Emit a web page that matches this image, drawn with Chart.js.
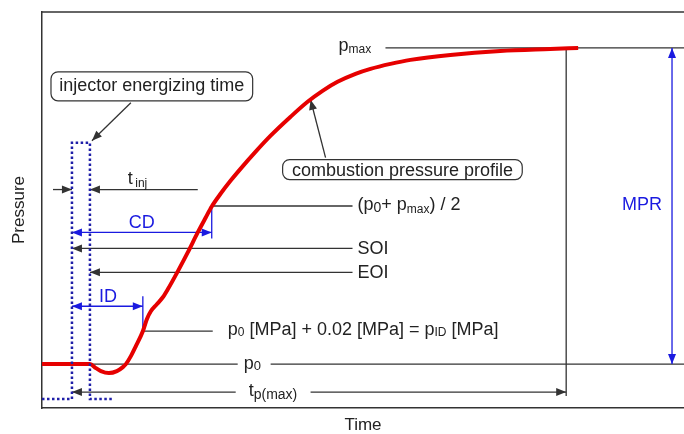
<!DOCTYPE html>
<html lang="en">
  <head>
    <meta charset="UTF-8" />
    <title>Combustion pressure profile</title>
    <script src="https://cdn.jsdelivr.net/npm/chart.js"></script>
    <style>
      body {
        margin: 0;
        background-color: #ffffff;
        font-family: "Liberation Sans", Arial, sans-serif;
      }
      .graph {
        width: 684px;
        height: 434px;
      }
    </style>
  </head>
  <body>
    <div class="graph">
      <canvas id="pressureChart"></canvas>
    </div>
    <script>
      // Combustion pressure trace (time, pressure)
      const curveTime = [0, 4.8, 5.4, 5.9, 6.7, 7.5, 8.1, 8.4, 8.9, 9.4, 10.1, 10.5, 10.9, 11.5, 12.1, 12.6,
        13.6, 14.6, 15.6, 16.4, 17.0, 17.9, 18.9, 19.9, 21.4, 22.9, 24.9, 26.6, 28.1, 29.6, 31.4, 32.9,
        34.9, 36.9, 40.9, 45.9, 50.9, 53.7];
      const curvePressure = [4.4, 4.4, 4.0, 3.7, 3.5, 3.7, 4.1, 4.4, 5.2, 6.2, 7.7, 8.9, 9.7, 10.4, 11.1, 11.9,
        13.7, 15.6, 17.6, 19.1, 20.2, 21.5, 22.8, 24.0, 25.7, 27.3, 29.2, 30.7, 31.8, 32.7, 33.5, 34.0,
        34.5, 34.9, 35.4, 35.8, 36.0, 36.1];

      // Injector energizing signal
      const pulseTime = [0, 3.0, 3.0, 4.8, 4.8, 7.1];
      const pulseLevel = [0.9, 0.9, 26.6, 26.6, 0.9, 0.9];

      // Characteristic values
      const p0 = 4.4;
      const pMax = 36.1;
      const pHalf = (p0 + pMax) / 2;
      const pID = 7.7;
      const tSOI = 3.0;
      const tEOI = 4.8;
      const tID = 10.1;
      const tHalf = 17.0;
      const tPmax = 52.5;
      const tEnd = 64.3;
      const pTop = 39.7;

      // [x1, y1, x2, y2, heads]  heads: 0 none, 1 at end, 2 both ends
      const blackLines = [
        [34.4, pMax, tEnd, pMax, 0],
        [tPmax, pMax, tPmax, 1.2, 0],
        [0, p0, 19.6, p0, 0],
        [22.9, p0, tEnd, p0, 0],
        [19.4, 1.6, tSOI, 1.6, 1],
        [26.9, 1.6, tPmax, 1.6, 1],
        [1.1, 21.9, tSOI, 21.9, 1],
        [15.6, 21.9, tEOI, 21.9, 1],
        [31.1, 16.0, tSOI, 16.0, 1],
        [31.1, 13.6, tEOI, 13.6, 1],
        [tHalf, pHalf, 31.1, pHalf, 0],
        [tID, pID, 17.1, pID, 0],
        [8.9, 30.6, 5.0, 26.8, 1],
        [28.4, 25.1, 26.9, 30.9, 1]
      ];
      const blueLines = [
        [tSOI, 17.6, tHalf, 17.6, 2],
        [tHalf, pHalf, tHalf, 17.0, 0],
        [tSOI, 10.2, tID, 10.2, 2],
        [tID, 11.2, tID, pID, 0],
        [63.1, pMax, 63.1, p0, 2]
      ];

      // [x1, y1, x2, y2] rounded label boxes
      const boxes = [
        [0.9, 33.7, 21.1, 30.8],
        [24.1, 24.9, 48.1, 22.9]
      ];

      // text labels: x, baseline y, alignment, colour, parts [text, size, drop]
      const black = "#222222";
      const blue = "#1a1ae0";
      const labels = [
        { x: 29.7, y: 35.8, align: "left", color: black, parts: [["p", 18, 0], ["max", 12, 2]] },
        { x: 31.6, y: 19.8, align: "left", color: black,
          parts: [["(p", 18, 0], ["0", 14, 2], ["+ p", 18, 0], ["max", 12, 3], [") / 2", 18, 0]] },
        { x: 31.6, y: 15.4, align: "left", color: black, parts: [["SOI", 18, 0]] },
        { x: 31.6, y: 13.0, align: "left", color: black, parts: [["EOI", 18, 0]] },
        { x: 18.6, y: 7.3, align: "left", color: black,
          parts: [["p", 18, 0], ["0", 12, 1], [" [MPa] + 0.02 [MPa] = p", 18, 0], ["ID", 12, 1], [" [MPa]", 18, 0]] },
        { x: 20.2, y: 3.9, align: "left", color: black, parts: [["p", 18, 0], ["0", 13, 1]] },
        { x: 20.7, y: 1.2, align: "left", color: black, parts: [["t", 18, 0], ["p(max)", 14, 3]] },
        { x: 8.6, y: 22.5, align: "left", color: black, parts: [["t", 18, 0], ["\u2009inj", 12, 3]] },
        { x: 10.0, y: 18.0, align: "center", color: blue, parts: [["CD", 18, 0]] },
        { x: 5.7, y: 10.6, align: "left", color: blue, parts: [["ID", 18, 0]] },
        { x: 58.1, y: 19.9, align: "left", color: blue, parts: [["MPR", 18, 0]] },
        { x: 11.0, y: 31.8, align: "center", color: black, parts: [["injector energizing time", 18, 0]] },
        { x: 36.1, y: 23.3, align: "center", color: black, parts: [["combustion pressure profile", 18, 0]] }
      ];

      const fontName = '"Liberation Sans", Arial, sans-serif';

      function arrowHead(ctx, x1, y1, x2, y2) {
        const a = Math.atan2(y2 - y1, x2 - x1);
        const len = 10, half = 4;
        ctx.beginPath();
        ctx.moveTo(x2, y2);
        ctx.lineTo(x2 - len * Math.cos(a) + half * Math.sin(a), y2 - len * Math.sin(a) - half * Math.cos(a));
        ctx.lineTo(x2 - len * Math.cos(a) - half * Math.sin(a), y2 - len * Math.sin(a) + half * Math.cos(a));
        ctx.closePath();
        ctx.fill();
      }

      const diagramPlugin = {
        id: "diagram",
        beforeDatasetsDraw(chart) {
          const { ctx, chartArea, scales } = chart;
          const px = (v) => scales.x.getPixelForValue(v);
          const py = (v) => scales.y.getPixelForValue(v);
          ctx.save();

          // top edge of the frame
          ctx.strokeStyle = "#333333";
          ctx.lineWidth = 1.5;
          ctx.beginPath();
          ctx.moveTo(chartArea.left, chartArea.top);
          ctx.lineTo(chartArea.right, chartArea.top);
          ctx.stroke();

          const drawLines = (list, color, width) => {
            ctx.strokeStyle = color;
            ctx.fillStyle = color;
            ctx.lineWidth = width;
            list.forEach(([x1, y1, x2, y2, heads]) => {
              const a = px(x1), b = py(y1), c = px(x2), d = py(y2);
              ctx.beginPath();
              ctx.moveTo(a, b);
              ctx.lineTo(c, d);
              ctx.stroke();
              if (heads >= 1) arrowHead(ctx, a, b, c, d);
              if (heads === 2) arrowHead(ctx, c, d, a, b);
            });
          };
          drawLines(blackLines, "#333333", 1.3);
          drawLines(blueLines, blue, 1.3);

          ctx.strokeStyle = "#333333";
          ctx.lineWidth = 1.2;
          boxes.forEach(([x1, y1, x2, y2]) => {
            const a = px(x1), b = py(y1);
            ctx.beginPath();
            ctx.roundRect(a, b, px(x2) - a, py(y2) - b, 7);
            ctx.stroke();
          });

          ctx.textBaseline = "alphabetic";
          ctx.textAlign = "left";
          labels.forEach((lab) => {
            let total = 0;
            lab.parts.forEach(([t, size]) => {
              ctx.font = size + "px " + fontName;
              total += ctx.measureText(t).width;
            });
            let cx = px(lab.x) - (lab.align === "center" ? total / 2 : 0);
            const base = py(lab.y);
            ctx.fillStyle = lab.color;
            lab.parts.forEach(([t, size, drop]) => {
              ctx.font = size + "px " + fontName;
              ctx.fillText(t, cx, base + drop);
              cx += ctx.measureText(t).width;
            });
          });
          ctx.restore();
        }
      };

      const ctx = document.getElementById("pressureChart").getContext("2d");
      const pressureChart = new Chart(ctx, {
        type: "scatter",
        data: {
          datasets: [
            {
              label: "injector energizing time",
              data: pulseTime.map((t, i) => ({ x: t, y: pulseLevel[i] })),
              showLine: true,
              borderColor: "#1f1fa8",
              borderWidth: 2.5,
              borderDash: [2.5, 2.5],
              pointRadius: 0,
              tension: 0
            },
            {
              label: "combustion pressure profile",
              data: curveTime.map((t, i) => ({ x: t, y: curvePressure[i] })),
              showLine: true,
              borderColor: "#e60000",
              borderWidth: 4,
              pointRadius: 0,
              cubicInterpolationMode: "monotone"
            }
          ]
        },
        options: {
          responsive: true,
          maintainAspectRatio: false,
          animation: false,
          layout: {
            padding: { left: 11, top: 12, right: 0, bottom: 0 }
          },
          plugins: {
            legend: { display: false },
            tooltip: { enabled: false }
          },
          scales: {
            x: {
              type: "linear",
              min: 0,
              max: tEnd,
              grid: { display: false, drawTicks: false },
              border: { display: true, color: "#333333", width: 1.5 },
              ticks: { display: false },
              title: {
                display: true,
                text: "Time",
                color: black,
                font: { family: fontName, size: 17, lineHeight: 1 },
                padding: { top: 9, bottom: 0 }
              }
            },
            y: {
              type: "linear",
              min: 0,
              max: pTop,
              grid: { display: false, drawTicks: false },
              border: { display: true, color: "#333333", width: 1.5 },
              ticks: { display: false },
              title: {
                display: true,
                text: "Pressure",
                color: black,
                font: { family: fontName, size: 17, lineHeight: 1 },
                padding: { top: 0, bottom: 14 }
              }
            }
          }
        },
        plugins: [diagramPlugin]
      });
    </script>
  </body>
</html>
